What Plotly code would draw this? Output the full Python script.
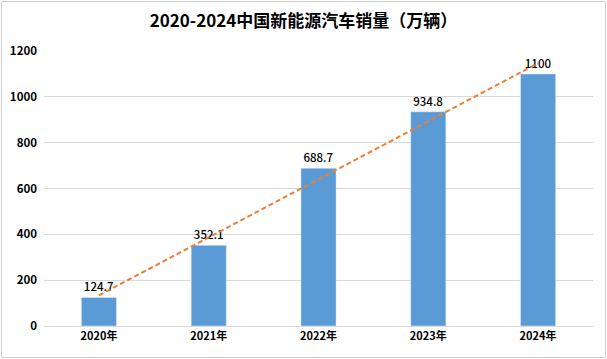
import plotly.graph_objects as go
import numpy as np

years = ["2020年", "2021年", "2022年", "2023年", "2024年"]
sales = [124.7, 352.1, 688.7, 934.8, 1100]
labels = ["124.7", "352.1", "688.7", "934.8", "1100"]
y_ticks = [0, 200, 400, 600, 800, 1000, 1200]

# linear trendline (as Excel's linear trend)
xi = np.arange(1, len(sales) + 1)
slope, intercept = np.polyfit(xi, sales, 1)
trend = list(slope * xi + intercept)

CJK = "'Noto Sans CJK SC', sans-serif"
L, R, T, B = 44, 14, 51, 33
PW, PH = 607 - L - R, 359 - T - B

fig = go.Figure()
fig.add_trace(go.Bar(
    x=years, y=sales, marker_color="#5B9BD5", width=0.32,
    text=labels, textposition="outside", cliponaxis=False,
    textfont=dict(size=11.5, color="#000000", family=CJK, weight=500),
    hoverinfo="skip",
))
fig.add_trace(go.Scatter(
    x=years, y=trend, mode="lines",
    line=dict(color="#ED7D31", width=2, dash="5px,3px"),
    hoverinfo="skip",
))

fig.update_layout(
    width=607, height=359,
    margin=dict(l=L, r=R, t=T, b=B, autoexpand=False),
    paper_bgcolor="white", plot_bgcolor="white",
    showlegend=False,
    title=dict(text="<b>2020-2024中国新能源汽车销量（万辆）</b>",
               x=0.5, xanchor="center", y=0.94, yanchor="middle",
               font=dict(size=17, color="#000000", family=CJK)),
    xaxis=dict(showgrid=False, showline=True, linecolor="#D9D9D9", linewidth=1,
               automargin=False, ticks="",
               tickfont=dict(size=11, color="#000000", family=CJK, weight="bold")),
    yaxis=dict(range=[0, 1200], tickvals=y_ticks, showgrid=True, gridcolor="#D9D9D9",
               gridwidth=1, zeroline=False, showline=False, ticks="", automargin=False,
               ticklabelstandoff=6,
               tickfont=dict(size=11.5, color="#000000", family=CJK, weight="bold")),
    shapes=[dict(type="rect", xref="paper", yref="paper",
                 x0=(-L + 1.5) / PW, x1=1 + (R - 1.5) / PW,
                 y0=(-B + 1.5) / PH, y1=1 + (T - 1.5) / PH,
                 line=dict(color="#D0D0D0", width=1), fillcolor="rgba(0,0,0,0)")],
)

fig.write_html("out.html", config={"displayModeBar": False},
               post_script="document.body.style.margin='0';document.body.style.overflow='hidden';")
